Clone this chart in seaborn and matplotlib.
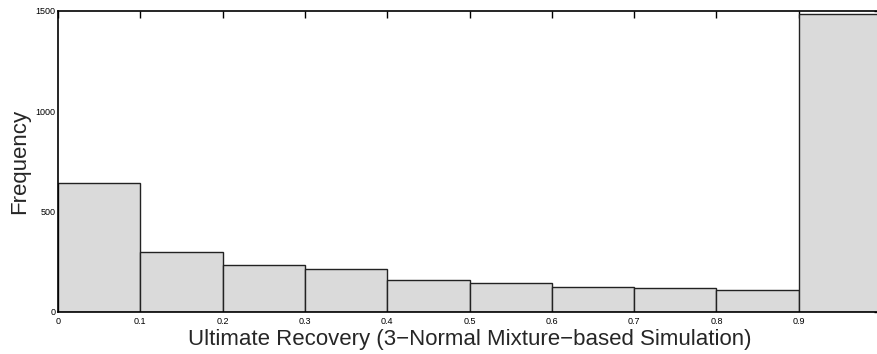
import matplotlib
matplotlib.use("Agg")
import matplotlib.pyplot as plt
import seaborn as sns
import numpy as np

bin_edges = [0.0, 0.1, 0.2, 0.3, 0.4, 0.5, 0.6, 0.7, 0.8, 0.9, 1.0]
bin_centers = [0.05, 0.15, 0.25, 0.35, 0.45, 0.55, 0.65, 0.75, 0.85, 0.95]
counts = [641, 296, 231, 212, 159, 141, 122, 119, 106, 1485]
x_ticks = [0, 0.1, 0.2, 0.3, 0.4, 0.5, 0.6, 0.7, 0.8, 0.9]
x_tick_labels = ["0", "0.1", "0.2", "0.3", "0.4", "0.5", "0.6", "0.7", "0.8", "0.9"]
y_ticks = [0, 500, 1000, 1500]
y_tick_labels = ["0", "500", "1000", "1500"]

sns.set_style("white")
plt.rcParams['font.family'] = ['Liberation Sans', 'DejaVu Sans']

fig = plt.figure(figsize=(8.77, 3.54), dpi=100)
ax = fig.add_axes([58/877, 42.5/354, 823/877, 300.5/354])

sns.histplot(x=bin_centers, weights=counts, bins=bin_edges, ax=ax,
             color="#dadada", edgecolor="#222222", linewidth=1.0, alpha=1.0)

ax.set_xlim(0, 1)
ax.set_ylim(0, 1500)
ax.set_xticks(x_ticks)
ax.set_xticklabels(x_tick_labels)
ax.set_yticks(y_ticks)
ax.set_yticklabels(y_tick_labels)
ax.tick_params(axis="both", direction="in", length=5, width=1, labelsize=6.5,
               top=True, right=True, colors="black", pad=2)
ax.tick_params(axis="x", pad=4)
for s in ax.spines.values():
    s.set_color("black")
    s.set_linewidth(1.2)

ax.set_xlabel("Ultimate Recovery (3\u2212Normal Mixture\u2212based Simulation)", fontsize=16, labelpad=2)
ax.set_ylabel("Frequency", fontsize=16, labelpad=4)

fig.savefig("out.png", dpi=100)
